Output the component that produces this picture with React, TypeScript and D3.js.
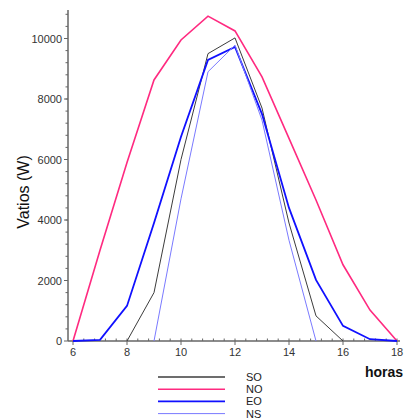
import { useRef, useEffect } from 'react';
import * as d3 from 'd3';

const W = 405;
const H = 419;

const horas = [6, 7, 8, 9, 10, 11, 12, 13, 14, 15, 16, 17, 18];
const SO = [null, null, 0, 1600, 6000, 9500, 10020, 7700, 3900, 830, 0, null, null];
const NO = [0, 3000, 5900, 8630, 9950, 10740, 10250, 8730, 6700, 4660, 2520, 1020, 0];
const EO = [0, 40, 1160, 3900, 6750, 9290, 9720, 7500, 4400, 2020, 500, 60, 0];
const NS = [null, null, null, 0, 4700, 8900, 9780, 7300, 3330, 0, null, null, null];

const xTicks = [6, 8, 10, 12, 14, 16, 18];
const yTicks = [0, 2000, 4000, 6000, 8000, 10000];

const series = [
  { label: 'SO', values: SO, color: '#3c3c3c', width: 1 },
  { label: 'NO', values: NO, color: '#ff2a80', width: 1.6 },
  { label: 'EO', values: EO, color: '#1010ff', width: 1.8 },
  { label: 'NS', values: NS, color: '#7a7aff', width: 1 },
];

export default function App() {
  const svgRef = useRef<SVGSVGElement>(null);

  useEffect(() => {
    const svg = d3.select(svgRef.current);
    svg.selectAll('*').remove();

    const x = d3.scaleLinear().domain([6, 18]).range([73, 397]);
    const y = d3.scaleLinear().domain([0, 10000]).range([341, 38.5]);
    const axisColor = '#666';
    const font = 'Liberation Sans, Arial, sans-serif';

    // axis lines
    svg.append('line').attr('x1', 68).attr('x2', 68)
      .attr('y1', 10).attr('y2', y(0))
      .attr('stroke', axisColor).attr('stroke-width', 1.5);
    svg.append('line').attr('x1', 68).attr('x2', 400)
      .attr('y1', y(0)).attr('y2', y(0))
      .attr('stroke', axisColor).attr('stroke-width', 1.5);

    // y minor ticks
    d3.range(400, 10801, 400).forEach(v => {
      svg.append('line').attr('x1', 65.5).attr('x2', 68)
        .attr('y1', y(v)).attr('y2', y(v))
        .attr('stroke', axisColor).attr('stroke-width', 1);
    });
    yTicks.forEach(v => {
      svg.append('line').attr('x1', 64).attr('x2', 68)
        .attr('y1', y(v)).attr('y2', y(v))
        .attr('stroke', axisColor).attr('stroke-width', 1);
      svg.append('text').attr('x', 62).attr('y', y(v) + 4)
        .attr('text-anchor', 'end').attr('font-family', font)
        .attr('font-size', 11).attr('fill', '#333')
        .text(v);
    });

    // x minor ticks
    d3.range(6.4, 18.01, 0.4).forEach(v => {
      svg.append('line').attr('x1', x(v)).attr('x2', x(v))
        .attr('y1', y(0) - 2.5).attr('y2', y(0))
        .attr('stroke', axisColor).attr('stroke-width', 1);
    });
    xTicks.forEach(v => {
      svg.append('line').attr('x1', x(v)).attr('x2', x(v))
        .attr('y1', y(0)).attr('y2', y(0) + 4)
        .attr('stroke', axisColor).attr('stroke-width', 1);
      svg.append('text').attr('x', x(v)).attr('y', y(0) + 15)
        .attr('text-anchor', 'middle').attr('font-family', font)
        .attr('font-size', 11).attr('fill', '#333')
        .text(v);
    });

    // lines
    series.forEach(s => {
      const line = d3.line<number | null>()
        .defined(d => d != null)
        .x((_, i) => x(horas[i]))
        .y(d => y(d as number));
      svg.append('path').datum(s.values)
        .attr('fill', 'none').attr('stroke', s.color)
        .attr('stroke-width', s.width).attr('d', line);
    });

    // axis labels
    svg.append('text').attr('x', 384).attr('y', 377)
      .attr('text-anchor', 'middle').attr('font-family', font)
      .attr('font-size', 14).attr('font-weight', 'bold').attr('fill', '#111')
      .text('horas');
    svg.append('text').attr('transform', 'translate(29,192) rotate(-90)')
      .attr('text-anchor', 'middle').attr('font-family', font)
      .attr('font-size', 16).attr('fill', '#111')
      .text('Vatios (W)');

    // legend
    series.forEach((s, i) => {
      const ly = 377 + i * 12.2;
      svg.append('line').attr('x1', 158).attr('x2', 225)
        .attr('y1', ly).attr('y2', ly)
        .attr('stroke', s.color).attr('stroke-width', i === 0 ? 1.5 : s.width);
      svg.append('text').attr('x', 246).attr('y', ly + 4)
        .attr('font-family', font).attr('font-size', 11).attr('fill', '#222')
        .text(s.label);
    });
  }, []);

  return (
    <svg ref={svgRef} width={W} height={H}
      style={{ position: 'absolute', left: 0, top: 0, background: '#fff' }} />
  );
}
